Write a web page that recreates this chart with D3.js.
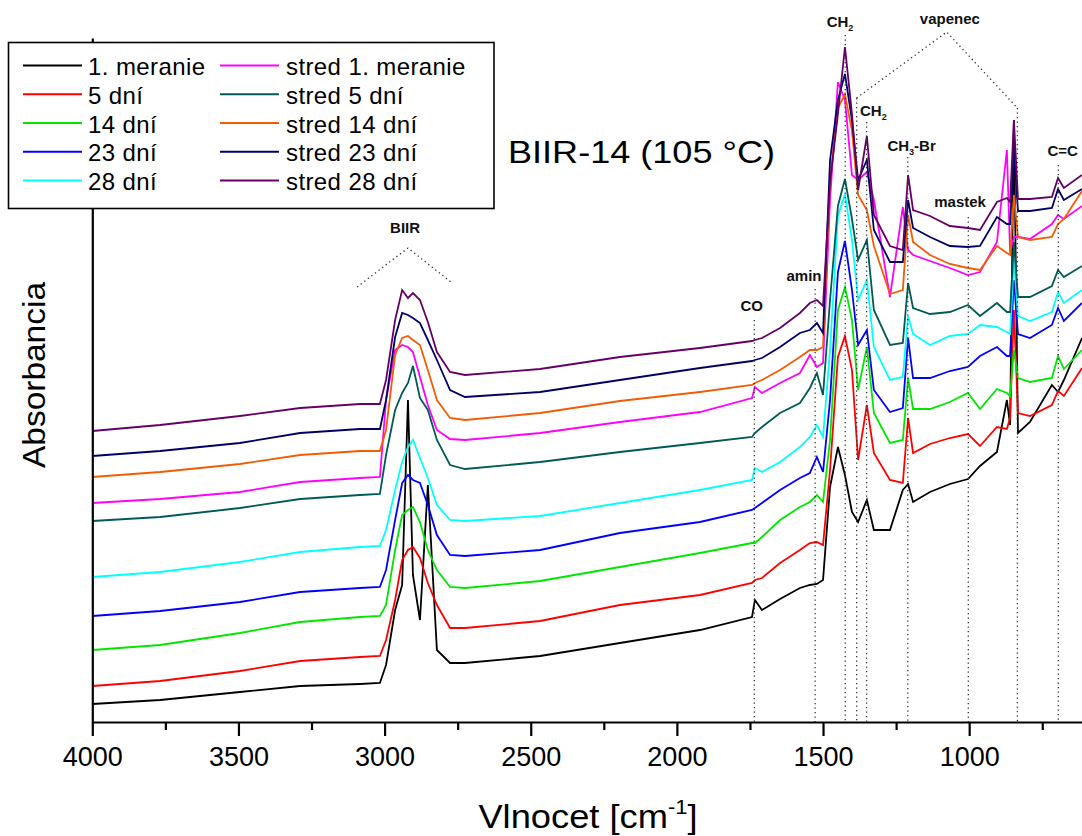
<!DOCTYPE html>
<html><head><meta charset="utf-8">
<script src="https://cdn.jsdelivr.net/npm/d3@7"></script>
<style>
html,body{margin:0;padding:0;background:#fff;}
svg{display:block;font-family:"Liberation Sans",Arial,Helvetica,sans-serif;}
</style></head><body>
<svg id="chart" width="1082" height="836"></svg>
<script>
// Wavenumber grid (cm^-1), shared by all spectra
const wavenumbers = [4000,3768,3495,3289,3084,3016,2995,2964,2940,2920,2903,2879,2852,2821,2776,2725,2468,2195,1921,
  1743,1733,1709,1647,1579,1545,1521,1500,1476,1449,1425,1401,1380,1350,1326,1271,1227,1209,1192,1134,1066,1004,963,905,
  871,860,847,833,792,717,696,676,614];

// Relative absorbance (offset spectra, arbitrary units x1000)
const meranie1 = [18,22,30,36,38,39, 57,112,137,322,147,102,237,72,59,59, 66,79,92, 105,122,112,123,134,137,138,142,
  235,275,247,210,200,222,192,192,232,238,220, 230,238,243,256,270,322,297,602,289,300,337,330,342,384];
const dni5 = [36,41,51,61,65,66, 82,122,162,172,175,164,139,117,94,94, 101,117,127, 139,142,144,159,172,179,180,177,
  252,365,386,352,262,317,269,242,239,304,269, 278,284,288,276,295,293,304,412,309,306,317,331,326,354];
const dni14 = [72,77,89,100,105,106, 117,172,207,212,215,200,172,152,135,134, 141,155,169, 179,179,185,202,215,220,227,220,
  282,412,435,402,332,375,309,279,282,344,313, 313,320,329,313,333,329,326,372,344,340,344,366,353,372];
const dni23 = [106,111,120,130,134,135, 152,202,239,247,242,239,217,187,167,166, 172,189,200, 212,214,219,232,244,249,265,250,
  322,450,481,432,377,392,332,310,314,384,344, 344,351,355,366,375,366,366,442,388,384,397,414,401,419];
const dni28 = [145,150,160,170,175,176, 192,232,260,275,282,264,244,217,202,201, 206,219,232, 242,254,250,260,275,285,297,285,
  372,506,528,482,422,442,375,342,345,406,388, 377,386,388,397,395,390,388,463,406,401,410,430,419,432];
const stred1 = [219,223,230,240,244,245, 322,372,377,375,370,345,317,292,283,282, 289,300,310, 324,335,329,339,349,367,355,359,
  522,640,622,547,542,550,522,425,515,472,467, 461,454,447,450,480,572,470,485,485,483,498,507,503,516];
const stred5 = [201,205,214,223,227,228, 267,312,329,339,356,324,312,282,257,253, 260,270,279, 285,289,295,309,319,334,349,327,
  422,516,543,503,462,482,412,377,379,439,414, 408,410,417,406,419,410,410,480,425,425,436,452,445,456];
const stred14 = [245,250,258,267,271,271, 292,367,384,386,382,377,352,322,304,302, 309,321,330, 337,339,342,352,365,372,372,375,
  542,614,628,591,527,512,476,428,432,507,480, 467,458,454,452,476,469,467,527,485,482,485,498,503,531];
const stred23 = [266,271,279,289,293,293, 322,385,409,407,404,399,382,362,332,325, 330,342,354, 361,362,364,375,389,392,399,389,
  562,622,648,602,542,562,492,460,460,522,494, 485,476,475,476,505,498,498,572,511,511,514,533,522,533];
const stred28 = [291,297,306,314,318,318, 342,402,432,424,429,422,400,370,350,347, 353,365,374, 381,382,384,394,409,419,422,416,
  540,608,675,608,532,586,507,476,472,547,512, 506,496,494,492,520,524,520,602,523,523,525,544,534,547];

const seriesNames = ["1. meranie","5 dní","14 dní","23 dní","28 dní",
  "stred 1. meranie","stred 5 dní","stred 14 dní","stred 23 dní","stred 28 dní"];
const seriesValues = [meranie1,dni5,dni14,dni23,dni28,stred1,stred5,stred14,stred23,stred28];
const seriesColors = ["#000000","#ff0000","#00e600","#0000ff","#00ffff",
  "#ff00ff","#005a55","#f25c05","#000066","#660066"];

const xTicks = [4000,3500,3000,2500,2000,1500,1000];
const xMinorTicks = [3750,3250,2750,2250,1750,1250,750];

// Band annotations: wavenumber of dotted marker line, top of that line (abs units)
const bandLabels = ["CO","amin","CH2a","CH2b","CH2c","CH3-Br","mastek","vapenec","C=C"];
const bandWn = [1735,1527,1424,1385,1351,1210,1003,835,695];
const bandTop = [402,433,687,624,600,565,505,614,557];
const textLabels = [
  {t:"CO", wn:1744, v:411},
  {t:"amin", wn:1565, v:441},
  {t:"CH", sub:"2", wn:1442, v:695},
  {t:"CH", sub:"2", wn:1328, v:606},
  {t:"CH", sub:"3", after:"-Br", wn:1197, v:571},
  {t:"mastek", wn:1031, v:515},
  {t:"vapenec", wn:1066, v:698},
  {t:"C=C", wn:680, v:566},
  {t:"BIIR", wn:2930, v:489}
];
const biirBracket = [[3094,435],[2920,474],[2769,439]];
const vapenecBracket = [[1385,624],[1077,690],[835,614]];

const svg = d3.select("#chart");
const x = d3.scaleLinear().domain([4000,614]).range([92.3,1082]);
const y = d3.scaleLinear().domain([0,684]).range([722,38]);

// spectra
const line = d3.line().x((d,i)=>x(wavenumbers[i])).y(d=>y(d));
svg.append("g").selectAll("path").data(seriesValues).join("path")
  .attr("d", d=>line(d)).attr("fill","none")
  .attr("stroke",(d,i)=>seriesColors[i]).attr("stroke-width",1.8)
  .attr("stroke-linejoin","miter");

// dotted band lines
const dots = svg.append("g").attr("stroke","#333").attr("stroke-width",1.3)
  .attr("stroke-dasharray","1.3,3.2").attr("fill","none");
bandWn.forEach((wn,i)=>{
  dots.append("line").attr("x1",x(wn)).attr("x2",x(wn)).attr("y1",y(bandTop[i])).attr("y2",y(0));
});
const bl = d3.line().x(d=>x(d[0])).y(d=>y(d[1]));
dots.append("path").attr("d",bl(biirBracket));
dots.append("path").attr("d",bl(vapenecBracket));

// band text labels
const lab = svg.append("g").attr("font-size",15).attr("font-weight","bold").attr("fill","#111").attr("text-anchor","middle");
textLabels.forEach(L=>{
  const t = lab.append("text").attr("x",x(L.wn)).attr("y",y(L.v));
  t.append("tspan").text(L.t);
  if(L.sub){ t.append("tspan").attr("font-size",9).attr("dy",4).text(L.sub); }
  if(L.after){ t.append("tspan").attr("dy",-4).text(L.after); }
});

// axes
const xAxis = d3.axisBottom(x).tickValues(xTicks).tickSize(14).tickSizeOuter(0).tickPadding(0).tickFormat(d3.format("d"));
const gx = svg.append("g").attr("transform",`translate(0,${y(0)})`).call(xAxis);
gx.select(".domain").attr("stroke","#000").attr("stroke-width",2.2);
gx.selectAll(".tick line").attr("stroke","#000").attr("stroke-width",2.2);
gx.selectAll(".tick text").attr("y",44).attr("dy",null).attr("font-size",27)
  .attr("fill","#000").attr("font-family",'"Liberation Sans",Arial,sans-serif');
const gxm = svg.append("g").attr("transform",`translate(0,${y(0)})`)
  .call(d3.axisBottom(x).tickValues(xMinorTicks).tickSize(8).tickSizeOuter(0).tickFormat(""));
gxm.select(".domain").remove();
gxm.selectAll(".tick line").attr("stroke","#000").attr("stroke-width",2.2);

const gy = svg.append("g").attr("transform",`translate(${x(4000)},0)`)
  .call(d3.axisLeft(y).tickValues([]).tickSizeOuter(0));
gy.select(".domain").attr("stroke","#000").attr("stroke-width",2.2);

// axis titles
const xt = svg.append("text").attr("transform","translate(588,828) scale(1.1,1)").attr("text-anchor","middle")
  .attr("font-size",33).attr("fill","#000");
xt.append("tspan").text("Vlnocet [cm");
xt.append("tspan").attr("font-size",20).attr("dy",-14).text("-1");
xt.append("tspan").attr("dy",14).text("]");

svg.append("text").attr("transform","translate(45,375) rotate(-90)").attr("text-anchor","middle")
  .attr("font-size",32).attr("fill","#000").attr("textLength",186).attr("lengthAdjust","spacingAndGlyphs")
  .text("Absorbancia");

svg.append("text").attr("x",508).attr("y",163).attr("font-size",32).attr("fill","#000")
  .attr("textLength",267).attr("lengthAdjust","spacingAndGlyphs").text("BIIR-14 (105 °C)");

// legend
const lg = svg.append("g");
lg.append("rect").attr("x",8.5).attr("y",42.5).attr("width",485.5).attr("height",166)
  .attr("fill","#fff").attr("stroke","#000").attr("stroke-width",1.6);
seriesNames.forEach((nm,i)=>{
  const col = Math.floor(i/5), row = i%5;
  const by = 75 + row*28.75;
  const lx = col===0 ? 23 : 220;
  const tx = col===0 ? 88 : 286;
  lg.append("line").attr("x1",lx).attr("x2",lx+59).attr("y1",by-9.5).attr("y2",by-9.5)
    .attr("stroke",seriesColors[i]).attr("stroke-width",2.2);
  lg.append("text").attr("x",tx).attr("y",by).attr("font-size",24).attr("letter-spacing",0.4)
    .attr("fill","#000").text(nm);
});
</script>
</body></html>
